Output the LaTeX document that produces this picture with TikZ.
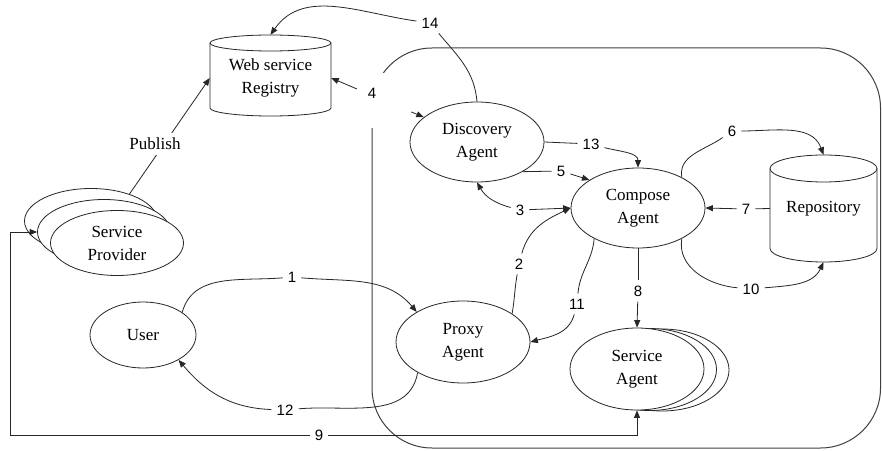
\documentclass[tikz,border=0pt]{standalone}
\usepackage{fontspec}
\setmainfont{Liberation Serif}
\newfontfamily\txtfont{Liberation Serif}
\newfontfamily\numfont{Liberation Sans}
\usetikzlibrary{shapes.geometric,arrows.meta}
\begin{document}
\begin{tikzpicture}[x=1pt,y=1pt,
  ln/.style={draw=black!85, line width=0.8pt},
  arr/.style={ln, -{Triangle[length=7.5pt,width=6pt]}},
  ell/.style={ellipse, draw=black!85, line width=0.8pt, fill=white, inner sep=0pt, align=center, font=\txtfont\fontsize{17}{23}\selectfont},
  num/.style={font=\numfont\fontsize{15}{18}\selectfont, fill=white, inner sep=5pt},
  box/.style={rectangle, inner sep=0pt, align=center, font=\txtfont\fontsize{17}{23}\selectfont},
  txtlbl/.style={fill=white, inner sep=5pt, font=\txtfont\fontsize{17}{23}\selectfont},
]
\useasboundingbox (0,0) rectangle (882,450);
\fill[white] (0,0) rectangle (882,450);
% container
\draw[line width=1pt, draw=black!75, rounded corners=60pt] (372,2) rectangle (880.5,402);

% Web service Registry cylinder
\draw[ln, fill=white] (210,407) -- (210,342) arc[start angle=180,end angle=360,x radius=60.5,y radius=8] -- (331,407) arc[start angle=0,end angle=180,x radius=60.5,y radius=8] -- cycle;
\draw[ln] (210,407) arc[start angle=180,end angle=360,x radius=60.5,y radius=8];
\node[box, minimum width=121pt, minimum height=86pt] (reg) at (270.5,372) {Web service\\Registry};

% Repository cylinder
\draw[ln, fill=white] (770,281.5) -- (770,201.5) arc[start angle=180,end angle=360,x radius=53.5,y radius=13.5] -- (877,281.5) arc[start angle=0,end angle=180,x radius=53.5,y radius=13.5] -- cycle;
\draw[ln] (770,281.5) arc[start angle=180,end angle=360,x radius=53.5,y radius=13.5];
\node[box, minimum width=107pt, minimum height=107pt] (rep) at (823.5,241.5) {\raisebox{-8pt}{Repository}};

% agents
\node[ell, minimum width=134pt, minimum height=80pt] (da) at (477,308) {Discovery\\Agent};
\node[ell, minimum width=134pt, minimum height=80pt] (ca) at (638,242) {Compose\\Agent};
\node[ell, minimum width=134pt, minimum height=82pt] (pa) at (463,108) {Proxy\\Agent};
\node[ell, minimum width=134pt, minimum height=82pt] (sab) at (662,80) {};
\node[ell, minimum width=134pt, minimum height=82pt] (sam) at (649.5,80.5) {};
\node[ell, minimum width=134pt, minimum height=82pt] (sa) at (637,81) {Service\\Agent};
\node[ell, minimum width=106pt, minimum height=66pt] (user) at (143,115) {User};
\node[ell, minimum width=133pt, minimum height=65pt] (spb) at (91,229) {};
\node[ell, minimum width=133pt, minimum height=65pt] (spm) at (104,218) {};
\node[ell, minimum width=133pt, minimum height=65pt] (spf) at (117,207) {Service\\Provider};

% labels
\node[num] (l14) at (430,427) {14};
\node[num, minimum width=54pt, minimum height=55pt,
      label={[num, fill=none, inner sep=0pt, xshift=-12pt, yshift=7.5pt]center:4}] (l4) at (384,349.5) {};
\node[num] (l13) at (591,306) {13};
\node[num] (l5) at (561,279) {5};
\node[num] (l3) at (520,240) {3};
\node[num] (l2) at (519,186) {2};
\node[num] (l11) at (577,146) {11};
\node[num] (l8) at (638,159) {8};
\node[num] (l10) at (751,161) {10};
\node[num] (l6) at (732,319) {6};
\node[num] (l7) at (746,241) {7};
\node[num] (l1) at (292,173) {1};
\node[num] (l12) at (285,40) {12};
\node[num] (l9) at (319,15) {9};
\coordinate (c9) at (10,15);

% connectors
\draw[arr] (spb.35) -- node[txtlbl, pos=0.43, xshift=-9pt] (pub) {Publish} (reg.west);
\draw[arr] (l4) -- (reg.east);
\draw[arr] (l4) -- (da.155);
\draw[ln] (da.north) to[out=95,in=-50] (l14);
\draw[arr] (l14) to[out=172,in=55] (reg.north);
\draw[ln] (da.east) -- (l13);
\draw[arr] (l13) to[out=-15,in=90] (ca.north);
\draw[ln] (da.-33) -- (l5);
\draw[arr] (l5) -- (ca.150);
\draw[arr] (l3) -- (ca.west);
\draw[arr] (l3) to[out=165,in=-60] (da.south);
\draw[ln] (pa.30) to[out=80,in=-100] (l2);
\draw[arr] (l2) to[out=75,in=205] (ca.west);
\draw[ln] (ca.-145) to[out=-95,in=85] (l11);
\draw[arr] (l11) to[out=-105,in=15] (pa.east);
\draw[ln] (ca.south) -- (l8);
\draw[arr] (l8) -- (sa.north);
\draw[ln] (ca.35) to[out=100,in=-145] (l6);
\draw[arr] (l6) to[out=0,in=110] (rep.north);
\draw[ln] (rep.west) -- (l7);
\draw[arr] (l7) -- (ca.east);
\draw[ln] (ca.-35) to[out=-100,in=175] (l10);
\draw[arr] (l10) to[out=5,in=-115] (rep.south);
\draw[ln] (user.30) to[out=75,in=185] (l1);
\draw[arr] (l1) to[out=-5,in=130] (pa.147);
\draw[ln] (pa.-146) to[out=-100,in=5] (l12);
\draw[arr] (l12) to[out=178,in=-50] (user.-35);
\draw[arr] (l9) -| (sa.south);
\draw[arr] (l9) -- (c9) |- (spm.west);
\end{tikzpicture}
\end{document}
